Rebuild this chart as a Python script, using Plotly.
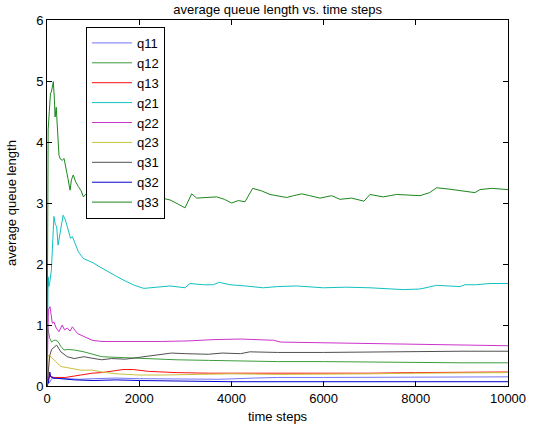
import plotly.graph_objects as go

# ---- data: (time step, average queue length) pairs ----
q11 = [(0, 0), (20, 0.10), (50, 0.05), (100, 0.12), (200, 0.13), (400, 0.12), (700, 0.11),
       (1000, 0.12), (1500, 0.13), (2000, 0.12), (3000, 0.12), (3750, 0.11), (4500, 0.13),
       (5000, 0.14), (6000, 0.14), (7000, 0.14), (8000, 0.15), (9000, 0.15), (10000, 0.15)]
q12 = [(0, 0), (10, 1.0), (30, 0.9), (60, 0.78), (100, 0.72), (150, 0.75), (190, 0.75),
       (240, 0.73), (300, 0.65), (370, 0.59), (450, 0.60), (590, 0.59), (800, 0.56),
       (1020, 0.51), (1190, 0.48), (1500, 0.47), (2000, 0.45), (2500, 0.44), (2800, 0.43),
       (3500, 0.42), (4000, 0.41), (5000, 0.40), (6000, 0.40), (7000, 0.39), (8000, 0.39),
       (9000, 0.38), (10000, 0.38)]
q13 = [(0, 0), (10, 0.5), (25, 0.10), (60, 0.16), (150, 0.14), (400, 0.14), (730, 0.18),
       (980, 0.21), (1190, 0.22), (1400, 0.24), (1650, 0.27), (1870, 0.27), (2200, 0.24),
       (2800, 0.22), (3500, 0.21), (4500, 0.21), (5000, 0.21), (6000, 0.20), (7000, 0.21),
       (8000, 0.22), (9000, 0.23), (10000, 0.23)]
q21 = [(0, 0), (10, 1.2), (25, 1.79), (40, 1.63), (60, 1.70), (95, 1.90), (120, 2.40),
       (150, 2.78), (180, 2.65), (210, 2.61), (240, 2.31), (270, 2.45), (300, 2.61),
       (350, 2.80), (400, 2.72), (455, 2.56), (510, 2.42), (550, 2.45), (600, 2.35),
       (680, 2.20), (790, 2.09), (900, 2.05), (1000, 2.02), (1150, 1.95), (1300, 1.88),
       (1500, 1.80), (1700, 1.72), (1900, 1.65), (2100, 1.60), (2400, 1.62), (2668, 1.64),
       (2994, 1.61), (3102, 1.68), (3400, 1.66), (3608, 1.66), (3738, 1.70), (3970, 1.66),
       (4300, 1.64), (4693, 1.61), (5000, 1.63), (5416, 1.64), (5994, 1.61), (6500, 1.62),
       (7006, 1.61), (7400, 1.59), (7729, 1.58), (8091, 1.59), (8452, 1.65), (8700, 1.64),
       (8958, 1.63), (9066, 1.66), (9300, 1.66), (9609, 1.68), (10000, 1.68)]
q22 = [(0, 0), (15, 0.9), (30, 1.25), (65, 1.30), (115, 1.03), (150, 1.05), (200, 0.95),
       (260, 0.89), (330, 1.00), (380, 0.92), (440, 0.95), (500, 0.90), (550, 0.97),
       (660, 0.86), (800, 0.81), (980, 0.75), (1190, 0.73), (1650, 0.73), (2000, 0.72),
       (2500, 0.73), (3100, 0.74), (3600, 0.76), (4190, 0.77), (4910, 0.75), (5070, 0.72),
       (6000, 0.71), (7000, 0.70), (8000, 0.68), (9000, 0.67), (10000, 0.66)]
q23 = [(0, 0), (20, 0.50), (50, 0.50), (110, 0.45), (190, 0.40), (300, 0.32), (510, 0.29),
       (730, 0.26), (980, 0.26), (1190, 0.23), (1500, 0.20), (2000, 0.18), (2500, 0.18),
       (3000, 0.19), (4000, 0.20), (5000, 0.19), (6000, 0.19), (7000, 0.20), (8000, 0.21),
       (9000, 0.22), (10000, 0.22)]
q31 = [(0, 0), (20, 0.20), (60, 0.50), (100, 0.60), (150, 0.64), (210, 0.67), (300, 0.56),
       (440, 0.48), (590, 0.45), (800, 0.48), (1020, 0.45), (1190, 0.43), (1400, 0.45),
       (1700, 0.44), (2000, 0.47), (2400, 0.51), (2700, 0.54), (3000, 0.53), (3500, 0.52),
       (3800, 0.54), (4200, 0.53), (4400, 0.56), (5000, 0.55), (6000, 0.55), (7000, 0.56),
       (8000, 0.57), (9000, 0.57), (10000, 0.57)]
q32 = [(0, 0), (30, 0.05), (60, 0.23), (80, 0.15), (150, 0.13), (300, 0.12), (600, 0.10),
       (1000, 0.09), (1500, 0.10), (2000, 0.09), (3000, 0.08), (4000, 0.07), (6000, 0.07),
       (8000, 0.07), (10000, 0.07)]
q33 = [(0, 0), (10, 3.80), (25, 4.20), (50, 4.50), (75, 4.80), (95, 4.82), (115, 4.95),
       (137, 4.99), (160, 4.70), (175, 4.41), (200, 4.57), (220, 4.30), (240, 3.98),
       (260, 3.78), (290, 3.72), (330, 3.70), (370, 3.73), (410, 3.60), (455, 3.40),
       (500, 3.21), (530, 3.38), (570, 3.46), (620, 3.35), (680, 3.27), (740, 3.20),
       (790, 3.10), (850, 3.15), (950, 3.12), (1100, 3.10), (1300, 3.12), (1500, 3.08),
       (1700, 3.10), (1900, 3.12), (2100, 3.08), (2300, 3.10), (2500, 3.08), (2668, 3.05),
       (2850, 2.98), (2994, 2.92), (3138, 3.15), (3247, 3.08), (3450, 3.09), (3680, 3.10),
       (3850, 3.06), (4005, 3.00), (4150, 3.04), (4295, 3.02), (4461, 3.24), (4650, 3.20),
       (4837, 3.14), (5000, 3.12), (5198, 3.09), (5350, 3.12), (5524, 3.15), (5700, 3.12),
       (5922, 3.08), (6175, 3.12), (6355, 3.06), (6609, 3.08), (6876, 3.03), (7006, 3.14),
       (7295, 3.10), (7585, 3.14), (7850, 3.13), (8091, 3.12), (8300, 3.17), (8452, 3.25),
       (8700, 3.23), (8958, 3.20), (9283, 3.17), (9392, 3.22), (9645, 3.24), (10000, 3.22)]

series_names = ["q11", "q12", "q13", "q21", "q22", "q23", "q31", "q32", "q33"]
series_data = [q11, q12, q13, q21, q22, q23, q31, q32, q33]
series_colors = ["#7474f4", "#3c9c3c", "#ff1010", "#12c0c0", "#cc33cc",
                 "#c8c23c", "#505050", "#0000d0", "#1b871b"]

x_ticks = [0, 2000, 4000, 6000, 8000, 10000]
y_ticks = [0, 1, 2, 3, 4, 5, 6]

fig = go.Figure()
for name, data, color in zip(series_names, series_data, series_colors):
    fig.add_trace(go.Scatter(
        x=[p[0] for p in data], y=[p[1] for p in data],
        mode="lines", name=name, line=dict(color=color, width=1),
    ))

font_family = "Liberation Sans, Arial, Helvetica, sans-serif"
axis_common = dict(
    showline=True, linecolor="black", linewidth=1, mirror="ticks",
    ticks="inside", ticklen=5, tickcolor="black", tickwidth=1,
    showgrid=False, zeroline=False, automargin=False,
    tickfont=dict(family=font_family, size=13, color="black"),
)

fig.update_layout(
    width=537, height=427,
    margin=dict(l=47, r=29, t=20, b=41, autoexpand=False),
    paper_bgcolor="white", plot_bgcolor="white",
    font=dict(family=font_family, size=13, color="black"),
    title=dict(text="average queue length vs. time steps", x=0.517, xanchor="center",
               y=0.978, yanchor="middle", font=dict(size=13, color="black")),
    xaxis=dict(range=[0, 10000], tickvals=x_ticks, ticktext=[str(v) for v in x_ticks],
               title=dict(text="time steps", standoff=7, font=dict(size=13)),
               **axis_common),
    yaxis=dict(range=[0, 6], tickvals=y_ticks, ticktext=[str(v) for v in y_ticks],
               title=dict(text="average queue length", standoff=16, font=dict(size=13)),
               **axis_common),
    legend=dict(x=0.0846, y=0.981, xanchor="left", yanchor="top",
                bgcolor="white", bordercolor="black", borderwidth=1,
                itemwidth=40,
                font=dict(size=13, color="black"), tracegroupgap=0),
    showlegend=True,
)

fig.write_html("out.html",
               config={"displayModeBar": False},
               post_script="document.body.style.margin='0';document.body.style.padding='0';")
